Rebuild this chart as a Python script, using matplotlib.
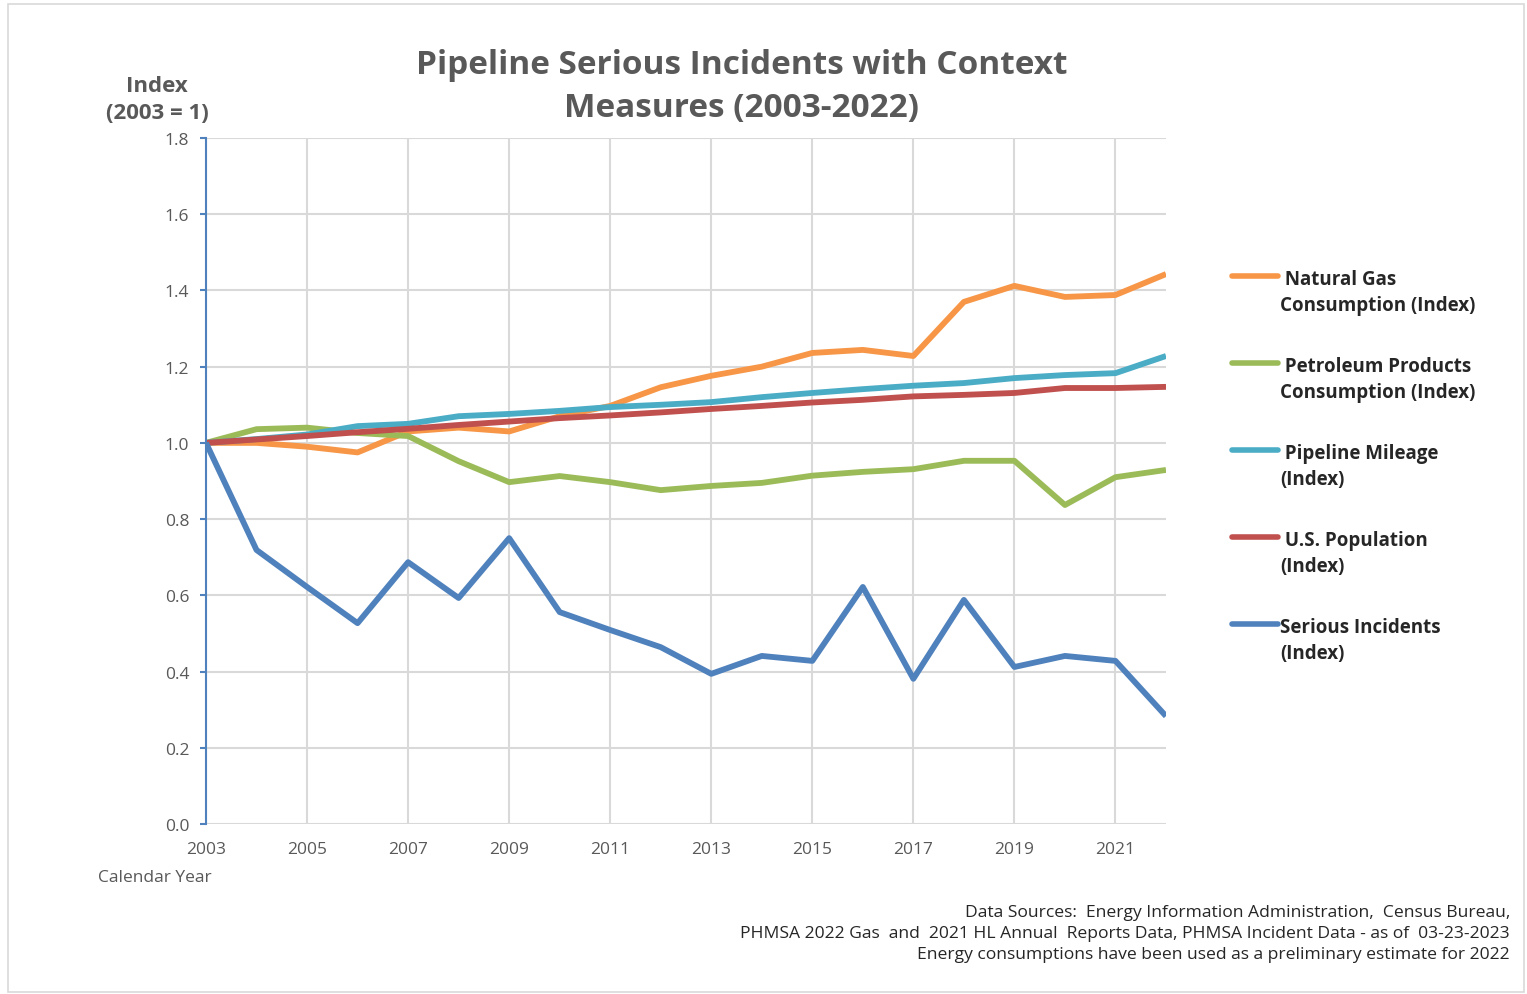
import matplotlib.pyplot as plt
from matplotlib.lines import Line2D
from matplotlib.patches import Rectangle

years = list(range(2003, 2023))

natural_gas = [1.000, 1.000, 0.990, 0.975, 1.030, 1.040, 1.030, 1.070, 1.097, 1.146,
               1.176, 1.200, 1.236, 1.244, 1.228, 1.370, 1.412, 1.383, 1.388, 1.443]
petroleum = [1.000, 1.036, 1.040, 1.026, 1.018, 0.952, 0.897, 0.913, 0.897, 0.876,
             0.887, 0.895, 0.914, 0.924, 0.931, 0.953, 0.953, 0.837, 0.910, 0.929]
mileage = [1.000, 1.010, 1.022, 1.044, 1.050, 1.070, 1.076, 1.084, 1.094, 1.100,
           1.107, 1.120, 1.131, 1.141, 1.150, 1.157, 1.170, 1.178, 1.183, 1.228]
population = [1.000, 1.009, 1.018, 1.028, 1.037, 1.047, 1.056, 1.065, 1.072, 1.080,
              1.089, 1.097, 1.106, 1.113, 1.122, 1.126, 1.131, 1.144, 1.144, 1.147]
incidents = [1.000, 0.719, 0.622, 0.527, 0.687, 0.593, 0.750, 0.556, 0.509, 0.464,
             0.394, 0.441, 0.428, 0.622, 0.381, 0.588, 0.412, 0.441, 0.428, 0.283]

series = [natural_gas, petroleum, mileage, population, incidents]
labels = [' Natural Gas\nConsumption (Index)',
          ' Petroleum Products\nConsumption (Index)',
          ' Pipeline Mileage\n(Index)',
          ' U.S. Population\n(Index)',
          'Serious Incidents\n(Index)']
colors = ['#F79646', '#9BBB59', '#4BACC6', '#C0504D', '#4F81BD']

x_ticks = list(range(2003, 2022, 2))
y_ticks = [0.0, 0.2, 0.4, 0.6, 0.8, 1.0, 1.2, 1.4, 1.6, 1.8]

font = ['Open Sans', 'DejaVu Sans']
grey = '#595959'

fig = plt.figure(figsize=(15.27, 9.95), dpi=100)
fig.patches.append(Rectangle((0.005, 0.002), 0.993, 0.993, transform=fig.transFigure,
                             fill=False, edgecolor='#D9D9D9', linewidth=1.2))

ax = fig.add_axes([206 / 1527, 1 - 825 / 995, 960 / 1527, 686 / 995])

for vals, lab, col in zip(series, labels, colors):
    ax.plot(years, vals, color=col, linewidth=4.2, label=lab, solid_capstyle='butt')

ax.set_xlim(2003, 2022)
ax.set_ylim(0, 1.8)
ax.set_xticks(x_ticks)
ax.set_yticks(y_ticks)
ax.set_yticklabels([f'{v:.1f}' for v in y_ticks])
ax.grid(True, color='#D9D9D9', linewidth=1.5)
ax.set_axisbelow(True)
for s in ['top', 'right', 'bottom']:
    ax.spines[s].set_visible(False)
ax.spines['left'].set_color('#4F81BD')
ax.spines['left'].set_linewidth(1.5)
ax.tick_params(axis='y', colors='#4F81BD', length=4, width=1.5, labelcolor=grey,
               labelsize=12.5, pad=8)
ax.tick_params(axis='x', length=0, labelcolor=grey, labelsize=12.5, pad=12)
for t in ax.get_xticklabels() + ax.get_yticklabels():
    t.set_family(font)

fig.text(742 / 1527, 1 - 87 / 995, 'Pipeline Serious Incidents with Context\nMeasures (2003-2022)',
         ha='center', va='center', fontsize=24, fontweight='bold', color=grey,
         family=font, linespacing=1.4)
fig.text(157 / 1527, 1 - 100 / 995, 'Index\n(2003 = 1)', ha='center', va='center',
         fontsize=16, fontweight='bold', color=grey, family=font, linespacing=1.35)
fig.text(98 / 1527, 1 - 878 / 995, 'Calendar Year', ha='left', va='center',
         fontsize=12.5, color=grey, family=font)

# legend drawn by hand so the swatch sits beside the first line
for i, (lab, col) in enumerate(zip(labels, colors)):
    y = 1 - (277 + i * 87) / 995
    fig.add_artist(Line2D([1232 / 1527, 1278 / 1527], [y, y], color=col, linewidth=4,
                          solid_capstyle='round', transform=fig.transFigure))
    fig.text(1280 / 1527, y + 0.0075, lab, ha='left', va='top', fontsize=13.5,
             fontweight='bold', color='#262626', family=font, linespacing=1.4)

fig.text(1510 / 1527, 1 - 934 / 995,
         'Data Sources:  Energy Information Administration,  Census Bureau,\n'
         'PHMSA 2022 Gas  and  2021 HL Annual  Reports Data, PHMSA Incident Data - as of  03-23-2023\n'
         'Energy consumptions have been used as a preliminary estimate for 2022',
         ha='right', va='center', fontsize=12.6, color='#262626',
         family=font, linespacing=1.38)

fig.savefig('out.png', dpi=100)
